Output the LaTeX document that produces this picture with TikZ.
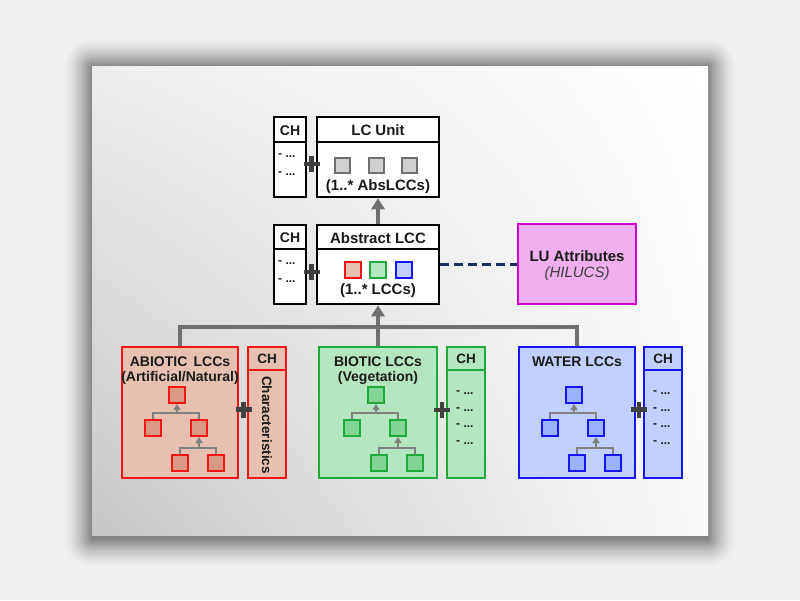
\documentclass[tikz,border=0pt]{standalone}
\usepackage{fontspec}
\setmainfont{Liberation Sans}
\usetikzlibrary{arrows.meta,shadings}
\definecolor{bgout}{HTML}{EFEFEF}
\definecolor{txt}{HTML}{1A1A1A}
\definecolor{conn}{HTML}{707070}
\definecolor{plusc}{HTML}{404040}
\definecolor{navy}{HTML}{14305A}
\definecolor{abF}{HTML}{E8C0B0}
\definecolor{abD}{HTML}{F41414}
\definecolor{abS}{HTML}{D99A85}
\definecolor{biF}{HTML}{B4E6C0}
\definecolor{biD}{HTML}{1EAA3A}
\definecolor{biS}{HTML}{80D494}
\definecolor{waF}{HTML}{C0D0FF}
\definecolor{waD}{HTML}{1414F4}
\definecolor{waS}{HTML}{99B3FF}
\definecolor{luF}{HTML}{F0B0F0}
\definecolor{luD}{HTML}{CC00CC}
\definecolor{grS}{HTML}{D0D0D0}
\definecolor{grD}{HTML}{707070}
\newcommand\lcctree[4]{%
 \node[tsq, draw=#3, fill=#4] (#1T) at (#2-3,395) {};
 \node[tsq, draw=#3, fill=#4] (#1L) at (#2-27,428) {};
 \node[tsq, draw=#3, fill=#4] (#1R) at (#2+19,428) {};
 \node[tsq, draw=#3, fill=#4] (#1A) at (#2,463) {};
 \node[tsq, draw=#3, fill=#4] (#1B) at (#2+36,463) {};
 \coordinate (#1j1) at (#2-3,413);
 \coordinate (#1j2) at (#2+19,448);
 \draw[tline] (#1L.north) |- (#1j1) -| (#1R.north);
 \draw[tarr] (#1j1) -- (#1T.south);
 \draw[tline] (#1A.north) |- (#1j2) -| (#1B.north);
 \draw[tarr] (#1j2) -- (#1R.south);
}
\newcommand\plusmark[1]{%
 \draw[plusline] ([xshift=-8pt]#1) -- ([xshift=8pt]#1);
 \draw[plusline] ([yshift=-8pt]#1) -- ([yshift=8pt]#1);
}
\begin{document}
\begin{tikzpicture}[x=1pt,y=-1pt,
  bbox/.style={draw=black, line width=2.5pt, fill=white, inner sep=0pt},
  gbox/.style={line width=2.5pt, inner sep=0pt},
  sqbox/.style={line width=2pt, inner sep=0pt, minimum width=15, minimum height=15},
  tsq/.style={line width=2pt, inner sep=0pt, minimum width=16, minimum height=16},
  hd/.style={font=\fontsize{15}{17}\selectfont\bfseries, text=txt, inner sep=0pt},
  sub/.style={font=\fontsize{14}{16}\selectfont\bfseries, text=txt, inner sep=0pt},
  chtxt/.style={font=\fontsize{14}{16}\selectfont\bfseries, text=txt, inner sep=0pt},
  dots/.style={font=\fontsize{12}{14}\selectfont\bfseries, text=txt, inner sep=0pt, anchor=west},
  mainconn/.style={draw=conn, line width=4pt},
  mainarr/.style={draw=conn, line width=4pt, -{Triangle[width=13pt,length=11pt]}},
  tline/.style={draw=gray, line width=2pt},
  tarr/.style={draw=gray, line width=2pt, -{Triangle[width=7pt,length=6pt]}},
  plusline/.style={draw=plusc, line width=4.5pt},
  divider/.style={line width=2.5pt}]
\useasboundingbox (0,0) rectangle (800,600);
\fill[bgout] (0,0) rectangle (800,600);
% soft shadow, drawn as solid layers from outside in
\foreach \i in {40,39,...,1}{
  \pgfmathsetmacro\e{0.7*\i}
  \pgfmathsetmacro\p{45*(1-\i/41)^1.5}
  \fill[black!\p!bgout, rounded corners=\e pt] (92-\e,66-\e+1) rectangle (708+\e,535+\e+4);
}
% panel
\shade[upper left=black!7, upper right=white, lower left=black!22, lower right=black!2]
  (92,66) rectangle (708,535);

% ---------- LC Unit ----------
\node[bbox, minimum width=122, minimum height=80] (lcu) at (378,157) {};
\draw[divider] ([yshift=-26pt]lcu.north west) -- ([yshift=-26pt]lcu.north east);
\node[hd] (lcut) at (378,130.5) {LC Unit};
\node[sqbox, draw=grD, fill=grS] (g1) at (342.5,165.5) {};
\node[sqbox, draw=grD, fill=grS] (g2) at (376,165.5) {};
\node[sqbox, draw=grD, fill=grS] (g3) at (409.5,165.5) {};
\node[hd] (lcum) at (378,187) {(1..* AbsLCCs)};
\node[bbox, minimum width=32, minimum height=80] (ch1) at (290,157) {};
\draw[divider] ([yshift=-26pt]ch1.north west) -- ([yshift=-26pt]ch1.north east);
\node[chtxt] (ch1t) at (290,131) {CH};
\node[dots] (ch1a) at (278,156) {- ...};
\node[dots] (ch1b) at (278,174) {- ...};
\coordinate (p1) at (311.5,164);
\plusmark{p1}

% ---------- Abstract LCC ----------
\node[bbox, minimum width=122, minimum height=79] (lcc) at (378,264.5) {};
\draw[divider] ([yshift=-25pt]lcc.north west) -- ([yshift=-25pt]lcc.north east);
\node[hd] (lcct) at (378,238) {Abstract LCC};
\node[sqbox, draw=abD, fill=abF, minimum width=16, minimum height=16] (c1) at (352.5,269.5) {};
\node[sqbox, draw=biD, fill=biF, minimum width=16, minimum height=16] (c2) at (378,269.5) {};
\node[sqbox, draw=waD, fill=waF, minimum width=16, minimum height=16] (c3) at (403.5,269.5) {};
\node[hd] (lccm) at (378,291) {(1..* LCCs)};
\node[bbox, minimum width=32, minimum height=79] (ch2) at (290,264.5) {};
\draw[divider] ([yshift=-25pt]ch2.north west) -- ([yshift=-25pt]ch2.north east);
\node[chtxt] (ch2t) at (290,238) {CH};
\node[dots] (ch2a) at (278,263) {- ...};
\node[dots] (ch2b) at (278,281) {- ...};
\coordinate (p2) at (311.5,272);
\plusmark{p2}

% ---------- LU attributes ----------
\node[draw=luD, fill=luF, line width=2.5pt, minimum width=118, minimum height=80, inner sep=0pt] (lua) at (577,264) {};
\node[hd] (luat) at (577,256) {LU Attributes};
\node[font=\fontsize{15}{17}\selectfont\itshape, text=txt!85, inner sep=0pt] (luas) at (577,274) {(HILUCS)};
\draw[navy, line width=3pt, dash pattern=on 9pt off 5pt] (lcc.east |- lua.west) -- (lua.west);

% ---------- LCC groups ----------
\node[gbox, draw=abD, fill=abF, minimum width=116, minimum height=131] (ab) at (180,412.5) {};
\node[gbox, draw=biD, fill=biF, minimum width=118, minimum height=131] (bi) at (378,412.5) {};
\node[gbox, draw=waD, fill=waF, minimum width=116, minimum height=131] (wa) at (577,412.5) {};
\node[sub] (abt1) at (180,362) {ABIOTIC\, LCCs};
\node[sub] (abt2) at (180,378) {(Artificial/Natural)};
\node[sub] (bit1) at (378,362) {BIOTIC LCCs};
\node[sub] (bit2) at (378,378) {(Vegetation)};
\node[sub] (wat1) at (577,362) {WATER LCCs};
\lcctree{ab}{180}{abD}{abS}
\lcctree{bi}{379}{biD}{biS}
\lcctree{wa}{577}{waD}{waS}

% CH boxes of groups
\node[gbox, draw=abD, fill=abF, minimum width=38, minimum height=131] (abc) at (267,412.5) {};
\draw[abD, divider] ([yshift=-24pt]abc.north west) -- ([yshift=-24pt]abc.north east);
\node[chtxt, font=\fontsize{13.5}{15}\selectfont\bfseries] (abct) at (267,359) {CH};
\node[chtxt, font=\fontsize{13.5}{15}\selectfont\bfseries, rotate=-90] (abcc) at (267,425) {Characteristics};

\node[gbox, draw=biD, fill=biF, minimum width=38, minimum height=131] (bic) at (466,412.5) {};
\draw[biD, divider] ([yshift=-24pt]bic.north west) -- ([yshift=-24pt]bic.north east);
\node[chtxt, font=\fontsize{13.5}{15}\selectfont\bfseries] (bict) at (466,359) {CH};
\node[dots] (bic1) at (456,393) {- ...};
\node[dots] (bic2) at (456,410) {- ...};
\node[dots] (bic3) at (456,426) {- ...};
\node[dots] (bic4) at (456,443) {- ...};

\node[gbox, draw=waD, fill=waF, minimum width=38, minimum height=131] (wac) at (663,412.5) {};
\draw[waD, divider] ([yshift=-24pt]wac.north west) -- ([yshift=-24pt]wac.north east);
\node[chtxt, font=\fontsize{13.5}{15}\selectfont\bfseries] (wact) at (663,359) {CH};
\node[dots] (wac1) at (653,393) {- ...};
\node[dots] (wac2) at (653,410) {- ...};
\node[dots] (wac3) at (653,426) {- ...};
\node[dots] (wac4) at (653,443) {- ...};

\coordinate (p3) at (243.5,409.5);
\coordinate (p4) at (442,410);
\coordinate (p5) at (639,409.5);
\plusmark{p3}
\plusmark{p4}
\plusmark{p5}

% ---------- main connectors ----------
\coordinate (junc) at (378,327);
\draw[mainconn] (ab.north) |- (junc) -| (wa.north);
\draw[mainarr] (bi.north) -- (lcc.south);
\draw[mainarr] (lcc.north) -- (lcu.south);
\end{tikzpicture}
\end{document}
